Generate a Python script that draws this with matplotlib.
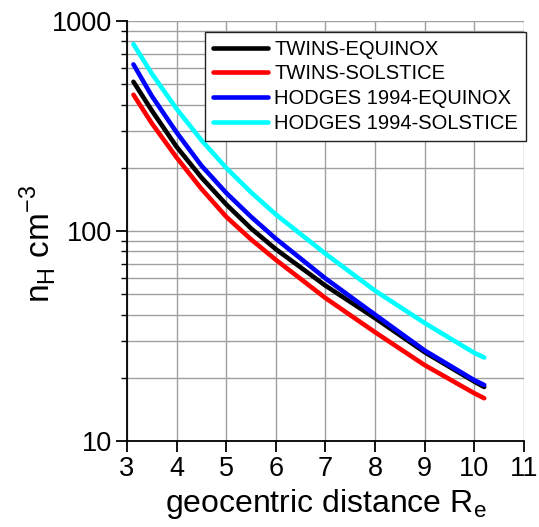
import numpy as np
import matplotlib.pyplot as plt
from matplotlib.ticker import LogLocator, NullFormatter, FixedLocator

plt.rcParams['font.family'] = ['Liberation Sans', 'DejaVu Sans']

# values
r = [3.13, 3.5, 4, 4.5, 5, 5.5, 6, 7, 8, 9, 10, 10.2]
twins_equinox = [514, 375, 252, 180, 134, 103, 82, 55, 38.5, 26.5, 19.2, 18.1]
twins_solstice = [446, 326, 224, 159, 117, 91.3, 73, 48, 33, 23, 16.9, 16.0]
hodges_equinox = [622, 440, 295, 205, 152, 117, 92, 59.5, 40, 27, 19.5, 18.5]
hodges_solstice = [777, 562, 382, 271, 200, 153, 120, 78, 52, 36.5, 26.3, 25.0]

fig = plt.figure(figsize=(5.39, 5.27), dpi=100)
ax = fig.add_axes([0.2356, 0.163, 0.972 - 0.2356, 0.960 - 0.163])

kw = dict(lw=3.3, solid_joinstyle='round', solid_capstyle='round', zorder=3)
ax.plot(r, twins_equinox, color='black', label='TWINS-EQUINOX', **kw)
ax.plot(r, twins_solstice, color='#ff0000', label='TWINS-SOLSTICE', **kw)
ax.plot(r, hodges_equinox, color='#0000ff', label='HODGES 1994-EQUINOX', **kw)
ax.plot(r, hodges_solstice, color='#00ffff', label='HODGES 1994-SOLSTICE', **kw)

ax.set_yscale('log')
ax.set_xlim(3, 11)
ax.set_ylim(10, 1000)
ax.xaxis.set_major_locator(FixedLocator(range(3, 12)))
ax.yaxis.set_major_locator(FixedLocator([10, 100, 1000]))
ax.yaxis.set_major_formatter(plt.FuncFormatter(lambda v, p: '%d' % v))
ax.yaxis.set_minor_locator(LogLocator(base=10, subs=np.arange(2, 10)))
ax.yaxis.set_minor_formatter(NullFormatter())

ax.grid(True, which='both', axis='y', color='#a0a0a0', lw=1)
ax.grid(True, which='major', axis='x', color='#a0a0a0', lw=1)
ax.set_axisbelow(True)

for s in ['top', 'right']:
    ax.spines[s].set_visible(False)
for s in ['left', 'bottom']:
    ax.spines[s].set_linewidth(1.3)

ax.tick_params(which='major', direction='out', length=8, width=1.3, labelsize=19.5, pad=3)
ax.tick_params(which='minor', direction='out', length=4, width=1)

ax.set_xlabel(r'geocentric distance R$_\mathregular{e}$', fontsize=23, labelpad=3)
ax.set_ylabel(r'n$_\mathregular{H}$ cm$^\mathregular{-3}$', fontsize=24)
ax.yaxis.set_label_coords(-0.175, 0.47)

leg = ax.legend(loc='upper right', bbox_to_anchor=(1.005, 0.975), fontsize=14.5,
                fancybox=False, framealpha=1, edgecolor='#222222',
                handlelength=2.75, handletextpad=0.3, labelspacing=0.28,
                borderpad=0.4, borderaxespad=0)
leg.get_frame().set_linewidth(1)

fig.savefig('out.png', dpi=100)
